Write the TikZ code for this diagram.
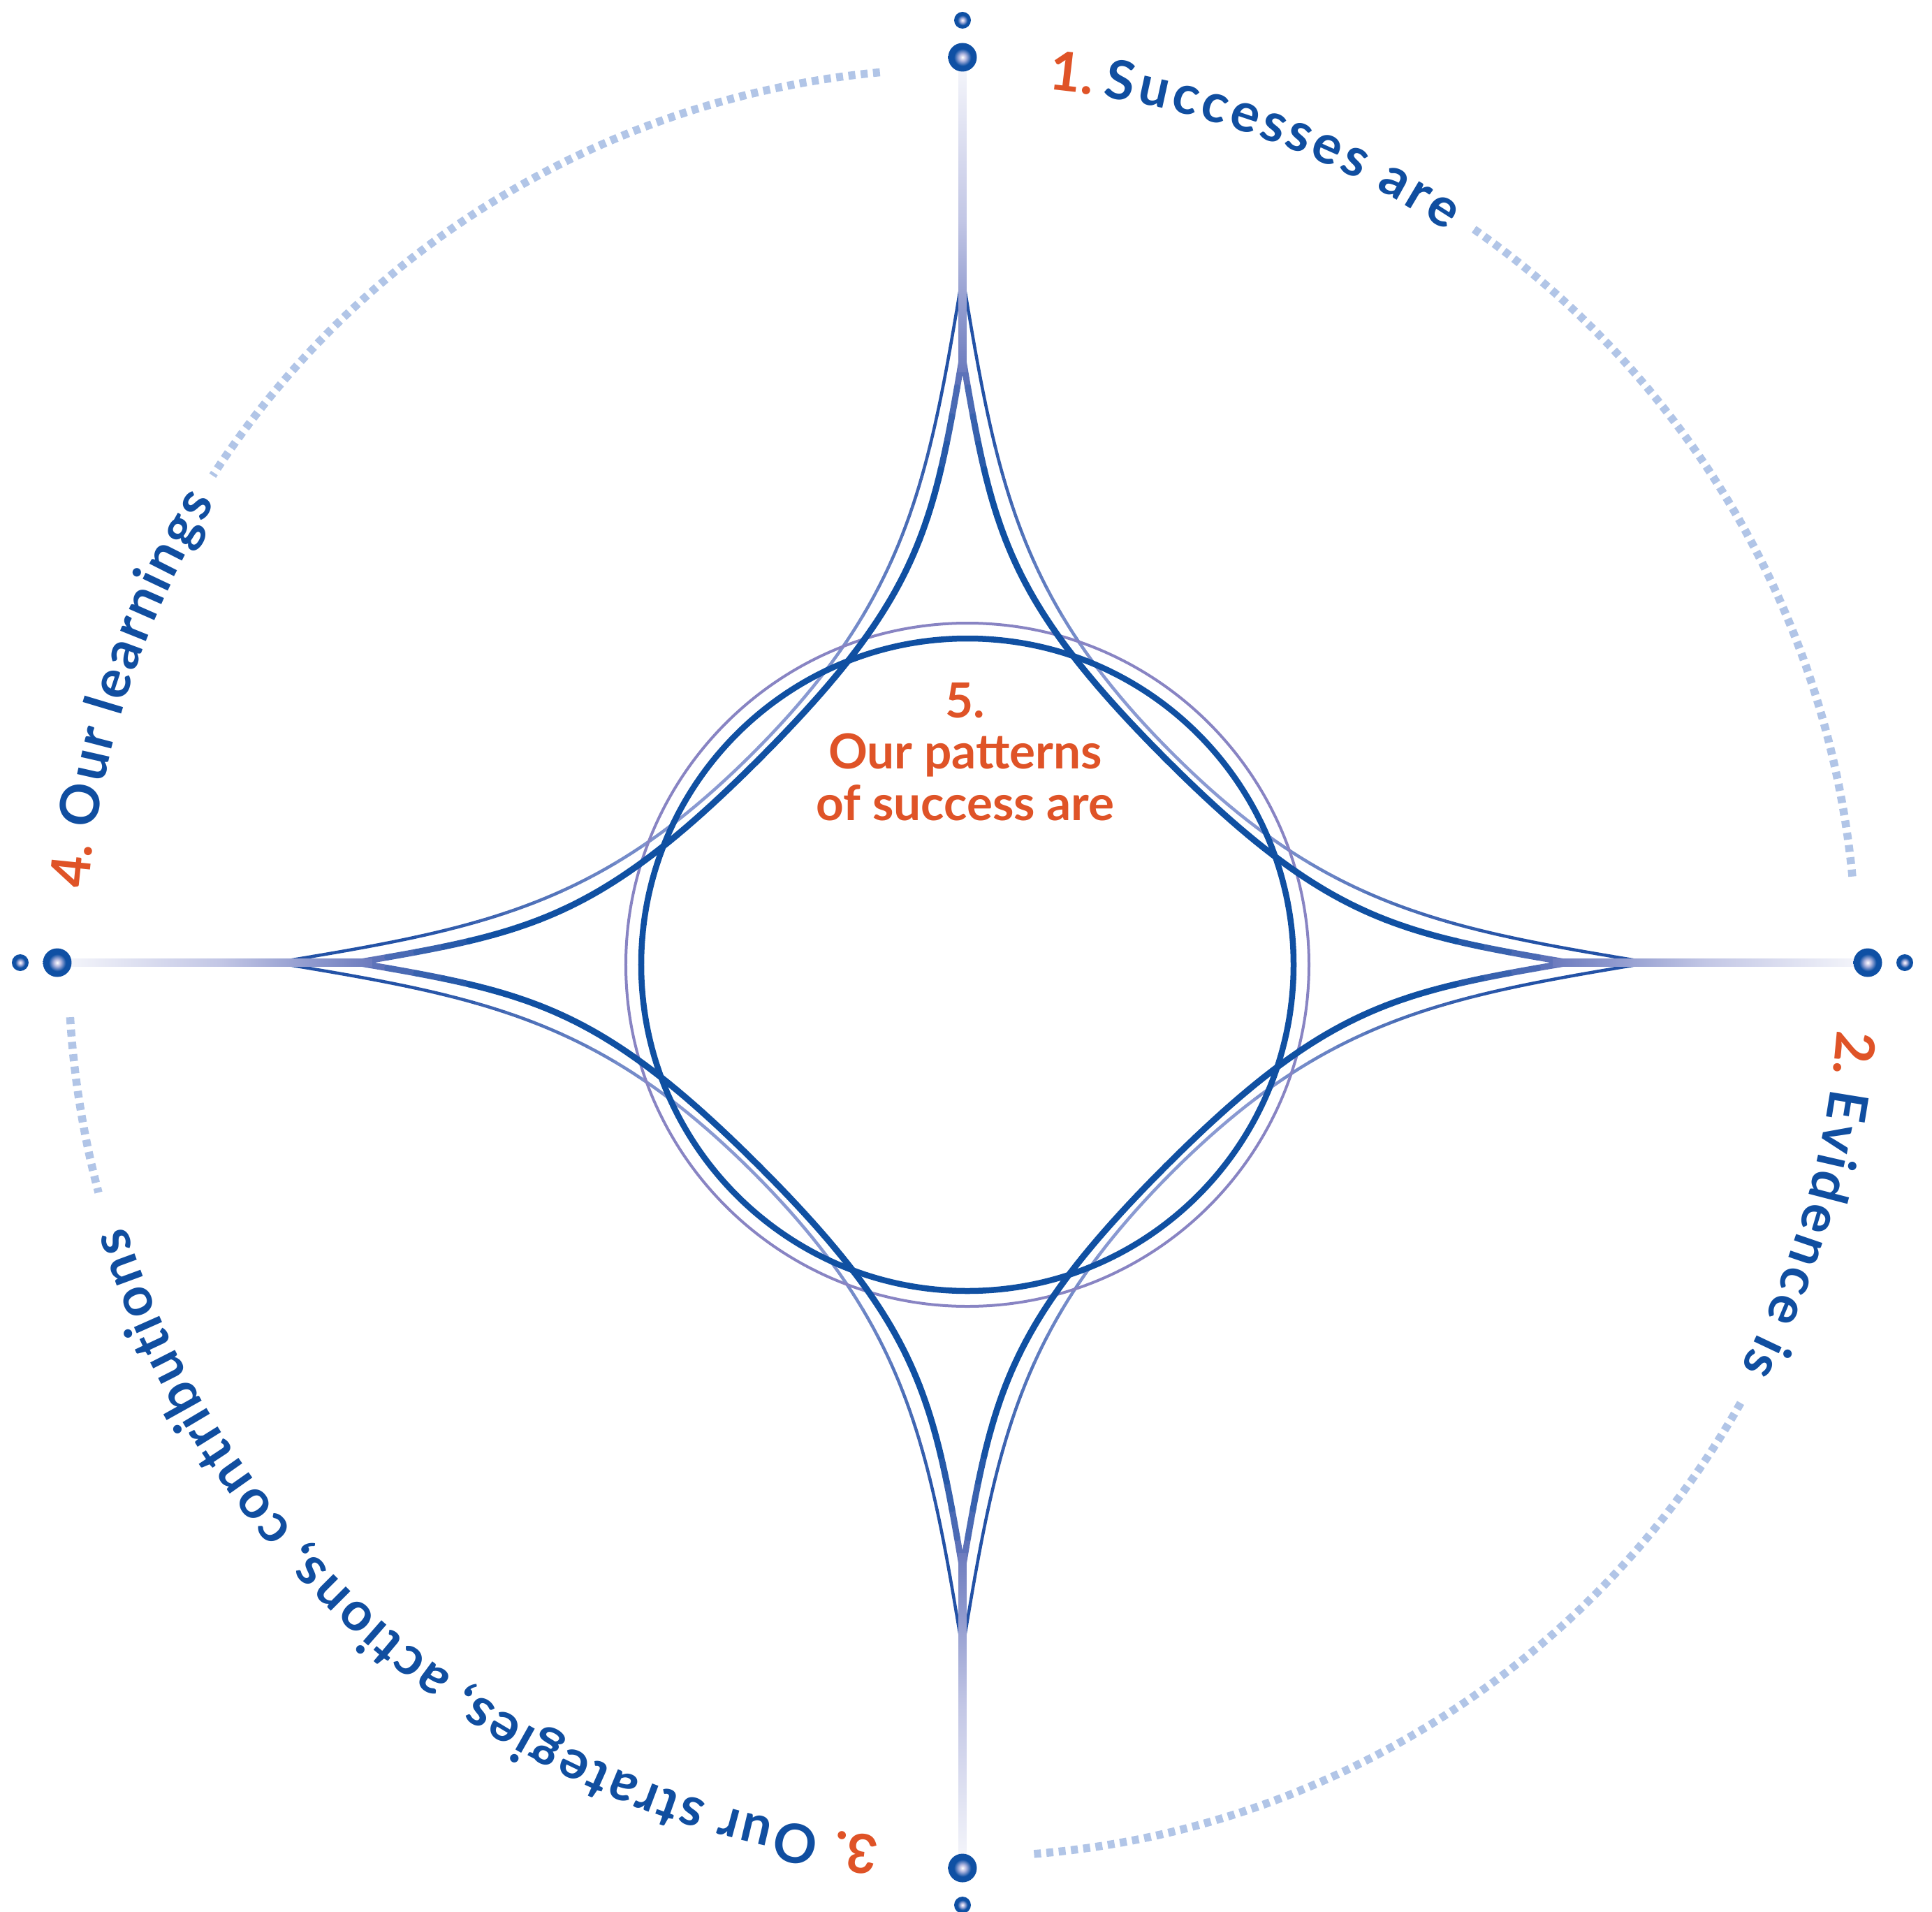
\documentclass[tikz,border=0pt]{standalone}
\usepackage{fontspec}
\setmainfont{Lato}
\usetikzlibrary{decorations.text}

\definecolor{ink}{HTML}{104EA0}
\definecolor{accent}{HTML}{DF5327}
\definecolor{starblue}{HTML}{1050A2}
\definecolor{starcusp}{HTML}{6676BC}
\definecolor{hairmid}{HTML}{8A9AD2}
\definecolor{haircusp}{HTML}{2352A6}
\definecolor{ringhair}{HTML}{8884C3}
\definecolor{spokeend}{HTML}{6C7BBE}
\definecolor{spokemid}{HTML}{C2C6E5}
\definecolor{spokefar}{HTML}{F3F4FA}
\definecolor{dotblue}{HTML}{0F50A4}
\definecolor{dotmid}{HTML}{B4B8E0}
\definecolor{orbitblue}{HTML}{B1C5E7}

\pgfdeclareradialshading{ballshade}{\pgfpoint{0bp}{0bp}}{color(0bp)=(white); color(6bp)=(dotmid); color(15bp)=(dotblue); color(25bp)=(dotblue); color(50bp)=(dotblue)}

\newcommand{\arcfont}{\bfseries\fontsize{22pt}{24pt}\selectfont}

\begin{document}
\begin{tikzpicture}[
    declare function={bez(\u,\ka,\kb,\kc,\kd)=(1-\u)*(1-\u)*(1-\u)*\ka+3*(1-\u)*(1-\u)*\u*\kb+3*(1-\u)*\u*\u*\kc+\u*\u*\u*\kd;},
    star line/.style={line width=0.09cm, line cap=round},
    star hair/.style={line width=0.045cm, line cap=round},
    ring line/.style={draw=starblue, line width=0.085cm},
    ring hair/.style={draw=ringhair, line width=0.04cm},
    orbit/.style={draw=orbitblue, line width=0.115cm, dash pattern=on 0.1cm off 0.077cm},
    ball/.style={circle, inner sep=0pt, shade, shading=ballshade, minimum size=#1},
    arc number/.style={decorate, decoration={text along path, text={|\color{accent}|#1}}},
    arc words/.style={decorate, decoration={text effects along path, text={#1},
        text effects/.cd, text along path, fit text to path, characters={text=ink, inner sep=0pt}}},
    centre label/.style={align=center, text=accent, inner sep=0pt,
        font=\bfseries\fontsize{19.7pt}{20.8pt}\selectfont}
  ]
  \arcfont
  \useasboundingbox (-13.78,-13.58) rectangle (13.88,13.78);

  % dotted orbit
  \draw[orbit] (95.3:12.8) arc[start angle=95.3, end angle=147, radius=12.8];
  \draw[orbit] (55.1:12.8) arc[start angle=55.1, end angle=5.2, radius=12.8];
  \draw[orbit] (-29.5:12.8) arc[start angle=-29.5, end angle=-85.5, radius=12.8];
  \draw[orbit] (-176.5:12.8) arc[start angle=-176.5, end angle=-165.1, radius=12.8];

  % thin star, half an arm at a time, dark at the tips
  \foreach \r in {0,90,180,270}
    \foreach \m in {1,-1}
      \foreach \s in {0,...,15} {
        \pgfmathsetmacro{\ta}{\s/16}
        \pgfmathsetmacro{\tb}{(\s+1)/16}
        \pgfmathtruncatemacro{\w}{100*min(1,max(0,(0.85-(\s+0.5)/16)/0.6))}
        \draw[star hair, draw=haircusp!\w!hairmid, rotate=\r, yscale=\m]
          plot[variable=\t, domain=\ta:\tb, samples=4] ({bez(\t,9.84,6.88,5.2,3)}, {bez(\t,0,0.4875,0.8,3)});
      }

  \draw[ring hair] (0.07,-0.03) circle (4.89);

  % thick star, pale at the tips
  \foreach \r in {0,90,180,270}
    \foreach \m in {1,-1}
      \foreach \s in {0,...,15} {
        \pgfmathsetmacro{\ta}{\s/16}
        \pgfmathsetmacro{\tb}{(\s+1)/16}
        \pgfmathtruncatemacro{\w}{100*max(0,1-(\s+0.5)/4.8)}
        \draw[star line, draw=starcusp!\w!starblue, rotate=\r, yscale=\m]
          plot[variable=\t, domain=\ta:\tb, samples=4] ({bez(\t,8.68,6.216,5.213,2.913)}, {bez(\t,0,0.421,0.613,2.913)});
      }

  \draw[ring line] (0.07,-0.03) circle (4.67);

  % spokes
  \shade[left color=spokeend, right color=spokefar, middle color=spokemid] (8.45,-0.057) rectangle (12.78,0.057);
  \shade[left color=spokefar, right color=spokeend, middle color=spokemid] (-12.78,-0.057) rectangle (-8.45,0.057);
  \shade[bottom color=spokeend, top color=spokefar, middle color=spokemid] (-0.057,8.45) rectangle (0.057,12.78);
  \shade[top color=spokeend, bottom color=spokefar, middle color=spokemid] (-0.057,-12.78) rectangle (0.057,-8.45);

  \foreach \a/\n in {90/n,0/e,-90/s,180/w} {
    \node[ball=0.41cm] (dot\n) at (\a:12.96) {};
    \node[ball=0.24cm] (tip\n) at (\a:13.49) {};
  }

  % words round the orbit
  \path[arc number={1.}] (84.4:12.56) arc[start angle=84.4, end angle=78, radius=12.56];
  \path[arc words={Successes are}] (80.8:12.56) arc[start angle=80.8, end angle=56.5, radius=12.56];
  \path[arc number={2.}] (-4.4:12.56) arc[start angle=-4.4, end angle=-11, radius=12.56];
  \path[arc words={Evidence is}] (-8.2:12.56) arc[start angle=-8.2, end angle=-27.5, radius=12.56];
  \path[arc number={3.}] (-95.4:12.56) arc[start angle=-95.4, end angle=-102, radius=12.56];
  \path[arc words={Our strategies, actions, contributions}] (-99.3:12.56) arc[start angle=-99.3, end angle=-162.5, radius=12.56];
  \path[arc number={4.}] (175.2:12.56) arc[start angle=175.2, end angle=168, radius=12.56];
  \path[arc words={Our learnings}] (171.3:12.56) arc[start angle=171.3, end angle=148.4, radius=12.56];

  \node[centre label, anchor=base] (core) at (0.04,2.04) {5.\\Our patterns\\of success are};
\end{tikzpicture}
\end{document}
